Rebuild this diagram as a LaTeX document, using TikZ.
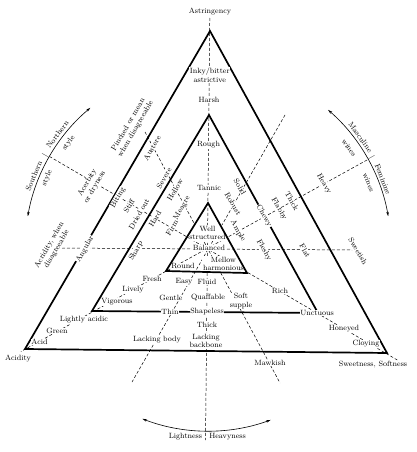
\documentclass[tikz,border=0pt]{standalone}
\usetikzlibrary{arrows.meta,calc}
\begin{document}
\begin{tikzpicture}[x=1pt,y=1pt,
  lab/.style={font=\fontsize{7.6}{8.5}\selectfont, fill=white, inner sep=0.6pt, align=center},
  L/.style={lab, rotate=60},
  R/.style={lab, rotate=-60},
  arclab/.style={font=\fontsize{7.6}{8.5}\selectfont, inner sep=0pt},
  tri/.style={line width=1.7pt, line join=miter},
  ray/.style={line width=0.5pt, dash pattern=on 3pt off 2pt},
  arcarrow/.style={line width=0.6pt, {Stealth[length=4.5pt,width=2.6pt]}-{Stealth[length=4.5pt,width=2.6pt]}}]

\useasboundingbox (0,0) rectangle (416,-452);
\fill[white] (0,0) rectangle (416,-452);

\coordinate (C) at (208,-248);

% outer and middle triangles
\draw[tri] (210,-31) -- (387,-353) -- (25,-349) -- cycle;
\draw[tri] (209,-115) -- (318,-313) -- (92,-311) -- cycle;

% ray end points
\coordinate (vtop) at (209.8,-18);
\coordinate (vbot) at (205.5,-440);
\coordinate (hleft) at (62,-248);
\coordinate (hright) at (352,-250);
\coordinate (snend) at (49.5,-156.5);
\coordinate (ssend) at (399,-361);
\coordinate (mfend) at (367,-160);
\coordinate (acend) at (21,-351.5);
\coordinate (etop) at (285,-115);
\coordinate (ebot) at (132,-382);
\coordinate (ftop) at (145,-132);
\coordinate (fbot) at (280,-383);

% dashed rays through the centre
\draw[ray] (vtop) -- (vbot);
\draw[ray] (hleft) -- (hright);
\draw[ray] (snend) -- (ssend);
\draw[ray] (mfend) -- (acend);
\draw[ray] (etop) -- (ebot);
\draw[ray] (ftop) -- (fbot);

% arcs
\draw[arcarrow] ($(C)+(130:183)$) arc[start angle=130, end angle=170, radius=183];
\draw[arcarrow] ($(C)+(49:183)$) arc[start angle=49, end angle=10, radius=183];
\draw[arcarrow] ($(C)+(249:183)$) arc[start angle=249, end angle=290, radius=183];

% arc labels
\node[arclab, rotate=67.5] (south) at ($(C)+(157.5:188.5)$) {Southern};
\node[arclab, rotate=60.5] (snbar) at ($(C)+(150.5:187)$) {|};
\node[arclab, rotate=53] (north) at ($(C)+(143:188.5)$) {Northern};
\node[arclab, rotate=53] (stylen) at ($(C)+(143:174.5)$) {style};
\node[arclab, rotate=66.5] (styles) at ($(C)+(156.5:175.5)$) {style};

\node[arclab, rotate=-54] (masc) at ($(C)+(36:188.5)$) {Masculine};
\node[arclab, rotate=-61] (mfbar) at ($(C)+(29:187)$) {|};
\node[arclab, rotate=-68.5] (femi) at ($(C)+(21.5:188)$) {Feminine};
\node[arclab, rotate=-54.6] (winesm) at ($(C)+(35.4:173)$) {wines};
\node[arclab, rotate=-67.8] (winesf) at ($(C)+(22.2:173.5)$) {wines};

\node[arclab] (light) at (185.5,-437) {Lightness};
\node[arclab] (heavyn) at (227.5,-437) {Heavyness};

% vertical axis labels
\node[lab] (astr) at (210,-12) {Astringency};
\node[lab] (inky) at (209.8,-75) {Inky/bitter\\astrictive};
\node[lab] (harsh) at (209,-100) {Harsh};
\node[lab] (rough) at (208.5,-145) {Rough};
\node[lab] (tannic) at (209,-188) {Tannic};
\node[lab] (wells) at (207.5,-233) {Well\\structured};
\node[lab] (bal) at (209,-248) {Balanced};
\node[lab] (fluid) at (207,-282) {Fluid};
\node[lab] (quaff) at (208,-298) {Quaffable};
\node[lab] (shapeless) at (207,-312) {Shapeless};
\node[lab] (vthick) at (207,-325) {Thick};
\node[lab] (backbone) at (206,-341) {Lacking\\backbone};

% horizontal axis labels
\node[L] (acrid) at (53,-247) {Acridity, when\\disagreeable};
\node[L] (angular) at (85,-249) {Angular};
\node[L] (sharp) at (136,-251) {Sharp};
\node[R] (fleshy) at (264,-250) {Fleshy};
\node[R] (flat) at (305,-251) {Flat};
\node[R] (sweetish) at (358,-251) {Sweetish};

% upper-left rays
\node[L] (acerb) at (91,-185) {Acerbity\\or dryness};
\node[L] (biting) at (118,-198) {Biting};
\node[L] (stiff) at (129,-206) {Stiff};
\node[L] (dried) at (139,-214) {Dried out};
\node[L] (hard) at (155,-219) {Hard};
\node[L] (firm) at (172,-228) {Firm};
\node[L] (pinched) at (132,-127) {Pinched or mean\\when disagreeable};
\node[L] (austere) at (152,-148) {Austere};
\node[L] (severe) at (164,-178) {Severe};
\node[L] (hollow) at (175,-190) {Hollow};
\node[L] (meagre) at (182,-208) {Meagre};

% upper-right rays
\node[R] (ample) at (238,-231) {Ample};
\node[R] (chewy) at (264,-216) {Chewy};
\node[R] (flabby) at (279,-209) {Flabby};
\node[R] (rthick) at (292,-201) {Thick};
\node[R] (heavy) at (324,-184) {Heavy};
\node[R] (robust) at (233,-204) {Robust};
\node[R] (solid) at (240,-187) {Solid};

% lower-right rays
\node[lab] (mellow) at (223.5,-264) {Mellow\\harmonious};
\node[lab] (rich) at (280,-291) {Rich};
\node[lab] (unct) at (317,-313) {Unctuous};
\node[lab] (honey) at (344,-329) {Honeyed};
\node[lab] (cloy) at (366,-344) {Cloying};
\node[lab] (sweetsoft) at (373,-365) {Sweetness, Softness};
\node[lab] (soft) at (241,-301) {Soft\\supple};
\node[lab] (mawkish) at (270,-363) {Mawkish};

% lower-left rays
\node[lab] (round) at (183,-266) {Round};
\node[lab] (fresh) at (152,-279) {Fresh};
\node[lab] (lively) at (133,-290) {Lively};
\node[lab] (vigor) at (117,-302) {Vigorous};
\node[lab] (lacid) at (84,-320) {Lightly acidic};
\node[lab] (green) at (57,-331) {Green};
\node[lab] (acid) at (39.5,-342) {Acid};
\node[lab] (acidity) at (18,-359) {Acidity};
\node[lab] (easy) at (184,-282) {Easy};
\node[lab] (gentle) at (171,-298) {Gentle};
\node[lab] (thin) at (170,-312) {Thin};
\node[lab] (lbody) at (157,-340) {Lacking body};

% inner triangle on top
\draw[tri] (208,-203) -- (247,-273) -- (166,-271) -- cycle;
\end{tikzpicture}
\end{document}
